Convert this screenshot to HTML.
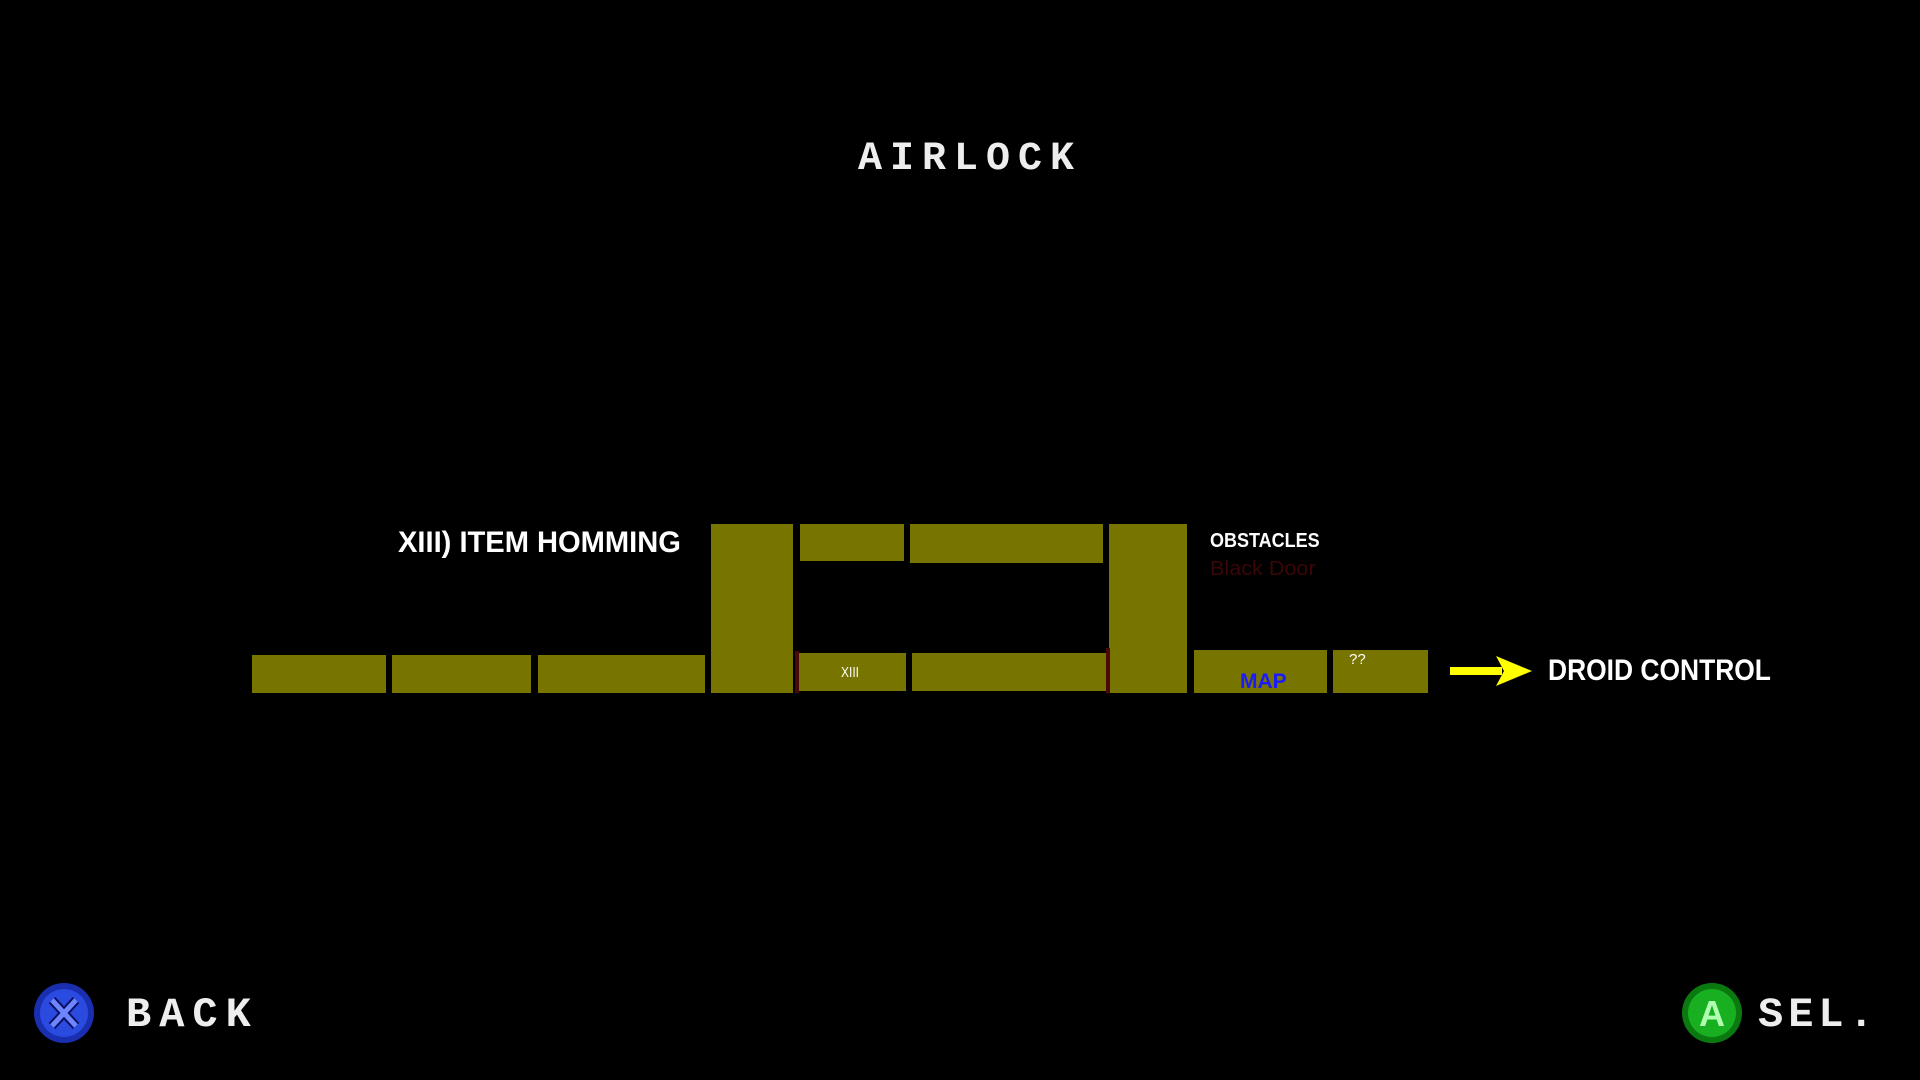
<!DOCTYPE html>
<html><head><meta charset="utf-8"><style>
html,body{margin:0;padding:0;background:#000;width:1920px;height:1080px;overflow:hidden;position:relative;font-family:"Liberation Sans",sans-serif}
.b{position:absolute;background:#787400}
.t{position:absolute;white-space:nowrap;line-height:1}
.r{position:absolute;background:#4a0808}
</style></head><body>
<div class="t" style="left:858px;top:140px;font-family:'Liberation Mono',monospace;font-weight:bold;font-size:40px;color:#eee;letter-spacing:8px">AIRLOCK</div>

<div class="b" style="left:252px;top:655px;width:134px;height:38px"></div>
<div class="b" style="left:392px;top:655px;width:139px;height:38px"></div>
<div class="b" style="left:538px;top:655px;width:167px;height:38px"></div>
<div class="b" style="left:711px;top:524px;width:82px;height:169px"></div>
<div class="b" style="left:800px;top:524px;width:104px;height:37px"></div>
<div class="b" style="left:910px;top:524px;width:193px;height:39px"></div>
<div class="b" style="left:1109px;top:524px;width:78px;height:169px"></div>
<div class="b" style="left:798px;top:653px;width:108px;height:38px"></div>
<div class="r" style="left:795px;top:651px;width:4px;height:42px"></div>
<div class="b" style="left:912px;top:653px;width:194px;height:38px"></div>
<div class="r" style="left:1106px;top:648px;width:4px;height:45px"></div>
<div class="b" style="left:1194px;top:650px;width:133px;height:43px"></div>
<div class="b" style="left:1333px;top:650px;width:95px;height:43px"></div>

<div class="t" style="left:841px;top:665px;font-size:15px;color:#fff;transform:scaleX(.8);transform-origin:left">XIII</div>
<div class="t" style="left:1240px;top:671px;font-size:21px;font-weight:bold;color:#1a1aff">MAP</div>
<div class="t" style="left:1349px;top:652px;font-size:15px;color:#fff">??</div>

<div class="t" style="left:398px;top:528px;font-size:30px;font-weight:bold;color:#fff;transform:scaleX(.97);transform-origin:left">XIII) ITEM HOMMING</div>
<div class="t" style="left:1210px;top:531px;font-size:20px;font-weight:bold;color:#fff;transform:scaleX(.9);transform-origin:left">OBSTACLES</div>
<div class="t" style="left:1210px;top:559px;font-size:20px;color:#3a0606;transform:scaleX(1.08);transform-origin:left">Black Door</div>
<div class="t" style="left:1548px;top:656px;font-size:30px;font-weight:bold;color:#fff;transform:scaleX(.88);transform-origin:left">DROID CONTROL</div>

<svg style="position:absolute;left:1448px;top:652px" width="90" height="38">
<rect x="2" y="15" width="52" height="8" fill="#ffff00"/>
<polygon points="48,4 84,19 48,34 56,19" fill="#ffff00"/>
</svg>

<svg style="position:absolute;left:30px;top:980px" width="68" height="68">
<circle cx="34" cy="33" r="30" fill="#1a2fb0"/><circle cx="34" cy="33" r="24" fill="#2a4ae0"/>
<path d="M22 20 L46 46 M46 20 L22 46" stroke="#0a1060" stroke-width="9"/>
<path d="M22 20 L46 46 M46 20 L22 46" stroke="#6d86ff" stroke-width="5"/>
</svg>
<div class="t" style="left:126px;top:994px;font-family:'Liberation Mono',monospace;font-weight:bold;font-size:42px;color:#eee;letter-spacing:8px">BACK</div>

<svg style="position:absolute;left:1678px;top:980px" width="68" height="68">
<circle cx="34" cy="33" r="30" fill="#0a7a10"/><circle cx="34" cy="33" r="24" fill="#18b020"/>
<text x="34" y="46" font-family="Liberation Sans" font-weight="bold" font-size="36" fill="#b0ffb0" text-anchor="middle">A</text>
</svg>
<div class="t" style="left:1758px;top:994px;font-family:'Liberation Mono',monospace;font-weight:bold;font-size:42px;color:#eee;letter-spacing:5px">SEL.</div>
</body></html>
